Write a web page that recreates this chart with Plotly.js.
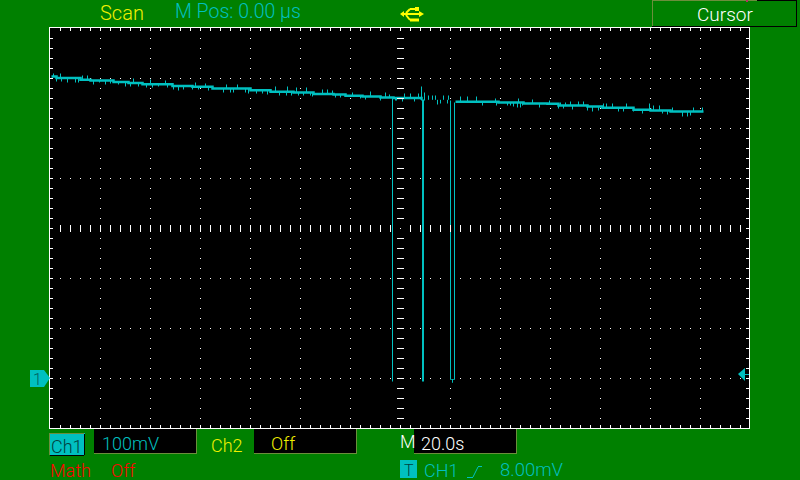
<!DOCTYPE html>
<html><head><meta charset="utf-8">
<script src="https://cdn.plot.ly/plotly-3.0.1.min.js"></script>
<style>html,body{margin:0;padding:0;background:#008000}</style></head>
<body><div id="plot" style="width:800px;height:480px"></div>
<script>
// Time in seconds (20 s/div), voltage in mV (100 mV/div)
const levelT = [-139.6,-137.6,-128,-124,-114.8,-108.8,-103.2,-91.2,-83.2,-75.2,-60,-52,-42.8,-34.8,-26.8,-22,-15.2,-8,-2.8,8.4,20,22,39.2,49.2,58.8,63.2,74.8,80.8,93.2,100,108,121.2];
const levelV = [604,601,597.4,596,593,591,588.4,585,583.4,580,576.6,573.4,572,569,568,565.4,564,562,561,557.4,null,553.4,552,550,549.4,546,544,541.4,537.4,536,534,534];
const spikeT = [-138.8,-137.6,-136,-135.6,-133.2,-130,-128.8,-127.2,-125.2,-122.8,-120.4,-118,-116,-112.8,-110,-108,-106.8,-104.8,-101.6,-100,-99.2,-96.8,-94,-93.2,-90.8,-88.8,-86.8,-83.2,-82,-80.8,-78,-76.8,-70.8,-69.6,-68,-66.8,-65.2,-62,-60.8,-57.6,-55.2,-53.2,-50,-48.4,-45.6,-45.2,-43.6,-41.6,-40.8,-38.8,-37.6,-36,-35.2,-31.2,-29.2,-27.2,-26,-24,-19.2,-16,-14,-12,-8,-6,-4.4,-2,-1.6,0.8,1.6,4,5.6,7.2,11.2,12.8,14,14.8,16,17.2,18.8,19.2,24,26.8,30.4,32.8,38,38.4,42.8,44,45.2,46.8,47.2,48,48.8,52.8,55.6,59.6,63.2,64,65.2,66,68,68.8,71.2,73.2,74.8,76.8,79.2,81.2,82.4,84.8,87.2,89.2,90.4,93.2,96.8,99.6,101.2,103.6,104.8,106.8,108.8,112.8,114.8,116,117.2,120.8];
const spikeV = [610,594,610,594,592,592,592,606,606,588,592,588,590,588,584,584,600,584,582,598,582,584,596,582,578,576,578,578,592,578,590,576,572,588,572,572,588,572,570,570,570,568,584,566,566,584,566,582,566,566,582,566,564,578,578,576,562,562,572,560,558,574,556,572,568,556,556,554,570,570,554,570,566,566,566,548,550,566,550,566,564,564,564,546,560,546,546,546,544,542,560,542,546,558,542,556,540,552,540,552,554,538,554,554,536,534,536,550,550,550,534,534,550,534,530,550,546,546,530,528,542,524,524,526,542,542];
const glitchT = [-3.2,-3.2,null,8.4,8.4,null,8.8,8.8,null,9.2,9.2,null,9.6,9.6,null,20,20,20.4,20.8,20.8,20.8,21.2,21.6,21.6];
const glitchV = [560,-6,null,556,584,null,558,-6,null,558,-6,null,556,572,null,556,-2,-2,-2,-8,-2,-2,-2,552];
const voltStep = 20;        // mV between minor marks
const tickLabels = {scan:"Scan",pos:"M Pos: 0.00 \u00b5s",cursor:"Cursor",ch1:"Ch1",scale1:"100mV",ch2:"Ch2",off:"Off",m:"M",base:"20.0s",math:"Math",t:"T",trig:"CH1",level:"8.00mV"};

const CY='#00c0c0', L=50, T=28, W=699, H=400;
const px=x=>(x-L)/W, py=y=>1-(y-T)/H;
function levelAt(t){let v=levelV[0];for(let i=0;i<levelT.length;i++){if(levelT[i]<=t&&levelV[i]!==null)v=levelV[i];}return v;}
const sx=[],sy=[];
spikeT.forEach((t,i)=>{sx.push(t,t,null);sy.push(levelAt(t),spikeV[i],null);});
const crossTx=[],crossTy=[],crossVx=[],crossVy=[];
for(let t=-136;t<=136;t+=4){if(t!==0){crossTx.push(t);crossTy.push(300);}}
for(let v=-80;v<=680;v+=voltStep){if(v!==300){crossVx.push(0);crossVy.push(v);}}

const data=[
 {x:levelT,y:levelV,mode:'lines',line:{color:CY,width:2.5,shape:'hv'},hoverinfo:'skip'},
 {x:sx,y:sy,mode:'lines',line:{color:CY,width:1},hoverinfo:'skip'},
 {x:glitchT,y:glitchV,mode:'lines',line:{color:CY,width:1},hoverinfo:'skip'},
 {x:crossTx,y:crossTy,mode:'markers',marker:{symbol:'line-ns',size:5,line:{color:'#fff',width:1}},hoverinfo:'skip'},
 {x:crossVx,y:crossVy,mode:'markers',marker:{symbol:'line-ew',size:5,line:{color:'#fff',width:1}},hoverinfo:'skip'}
];
function rect(x0,y0,x1,y1,fill,line){return {type:'rect',xref:'paper',yref:'paper',x0:px(x0),x1:px(x1),y0:py(y0),y1:py(y1),fillcolor:fill,line:{width:line?1:0,color:line||fill},layer:'above'};}
function seg(x0,y0,x1,y1,c,w){return {type:'line',xref:'paper',yref:'paper',x0:px(x0),x1:px(x1),y0:py(y0),y1:py(y1),line:{color:c,width:w||1},layer:'above'};}
function poly(pts,fill){const p='M'+pts.map(q=>px(q[0])+','+py(q[1])).join('L')+'Z';return {type:'path',xref:'paper',yref:'paper',path:p,fillcolor:fill,line:{width:0},layer:'above'};}
const OL='#6b8e3c';
const shapes=[
 rect(94,429,196,453,'#000'),seg(94,453.5,196,453.5,OL),seg(196.5,429,196.5,454,OL),
 rect(254,429,356,453,'#000'),seg(254,453.5,356,453.5,OL),seg(356.5,429,356.5,454,OL),
 rect(414,429,516,453,'#000'),seg(414,453.5,516,453.5,OL),seg(516.5,429,516.5,454,OL),
 seg(652.5,0,652.5,27,OL),seg(652,0.5,757,0.5,OL),seg(652,26.5,797,26.5,'#000'),seg(796.5,0,796.5,27,'#000'),seg(757,0.5,797,0.5,'#000'),
 rect(746,0,748,2,'#b03060'),
 rect(49,433,85,455,CY),seg(49,433.5,84,433.5,OL),seg(49.5,433,49.5,455,OL),seg(84.5,434,84.5,455,'#000'),seg(50,455.5,84,455.5,'#000'),
 poly([[30,370],[44,370],[50,378],[44,387],[30,387]],CY),
 poly([[738,374],[745,368],[745,381]],CY),seg(745,374.5,749,374.5,CY),
 rect(400,460,417,478,CY),
 seg(467,477.5,473,477.5,CY),seg(473,477,478,467,CY),seg(478,466.5,482,466.5,CY),
 // USB symbol
 seg(402,14,422,14,'#ffff00',2),poly([[400,14],[404,11],[404,17]],'#ffff00'),poly([[424,14],[419,11],[419,17]],'#ffff00'),
 seg(406,13,410,9,'#ffff00',2),seg(410,9,416,9,'#ffff00',2),seg(406,15,410,20,'#ffff00',2),seg(410,20,419,20,'#ffff00',3),
 rect(415,7,419,11,'#ffff00')
];
function txt(s,x,y,c,size,anchor){return {text:s,xref:'paper',yref:'paper',x:px(x),y:py(y),xanchor:anchor||'left',yanchor:'middle',showarrow:false,font:{family:'Roboto, "Liberation Sans", sans-serif',size:size||18,color:c,weight:300}};}
const Y='#f0f000',R='#ff0000',Wh='#ffffff',k=tickLabels;
const annotations=[
 txt(k.scan,98,13,Y,20),txt(k.pos,173,12,CY,19.5),txt(k.cursor,695,14,Wh,19),
 txt(k.ch1,49,446,'#004040'),txt(k.scale1,100,443,CY),txt(k.ch2,209,445,Y),txt(k.off,269,443,Y),
 txt(k.m,398,442,Wh),txt(k.base,419,443,Wh),txt(k.math,48,470,R),txt(k.off,109,470,R),
 txt(k.t,408.5,470,'#004040',16,'center'),txt(k.trig,422,470,CY),txt(k.level,498,470,CY,18.5),
 txt('1',37,379,'#006060',16,'center')
];
const axisCommon={showline:true,linecolor:'#fff',linewidth:1,mirror:'allticks',ticks:'inside',ticklen:3,tickcolor:'#fff',tickwidth:1,showticklabels:false,zeroline:false,
 showgrid:true,gridcolor:'#fff',gridwidth:1,griddash:'1px,9px'};
const layout={width:800,height:480,margin:{l:L,t:T,r:800-L-W,b:480-T-H,pad:0},paper_bgcolor:'#008000',plot_bgcolor:'#000',showlegend:false,
 xaxis:Object.assign({range:[-140.2,139.4],tick0:-140,dtick:20,minor:{tick0:-140,dtick:4,ticks:'inside',ticklen:3,tickcolor:'#fff',tickwidth:1,showgrid:false}},axisCommon),
 yaxis:Object.assign({range:[-99,701],tick0:-100,dtick:100,minor:{tick0:-100,dtick:20,ticks:'inside',ticklen:3,tickcolor:'#fff',tickwidth:1,showgrid:false}},axisCommon),
 shapes:shapes,annotations:annotations};
Plotly.newPlot('plot',data,layout,{staticPlot:true,displayModeBar:false});
</script></body></html>
